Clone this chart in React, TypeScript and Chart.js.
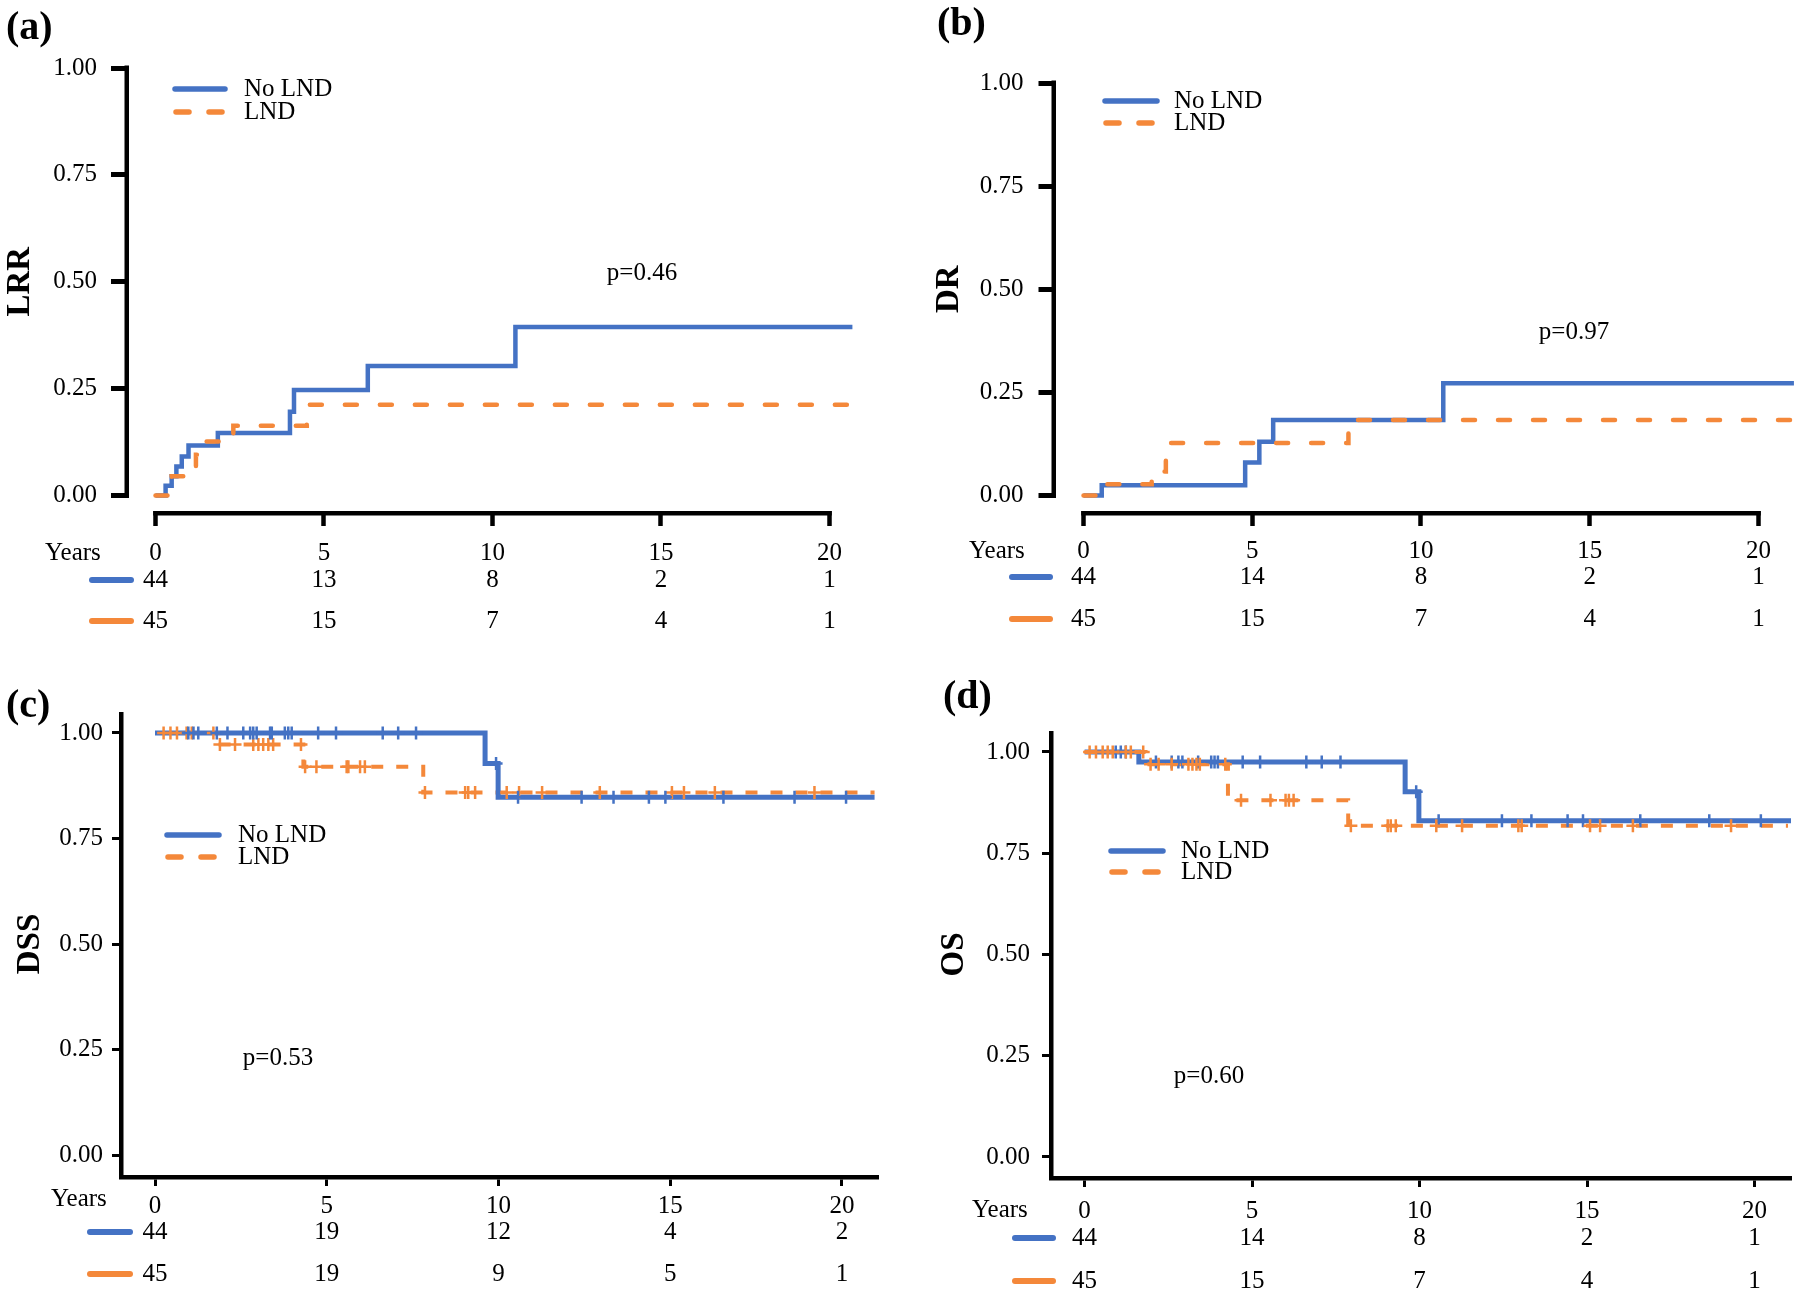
import React, { useEffect, useRef } from 'react';
import { Chart, registerables } from 'chart.js';

Chart.register(...registerables);

const BLUE = '#4472C4';
const ORANGE = '#F4883A';
const SERIF = "'Liberation Serif', 'Times New Roman', Times, serif";

// ---------- shared labels ----------
const seriesNames = ['No LND', 'LND'];
const xTickValues = [0, 5, 10, 15, 20];
const yTickValues = [0, 0.25, 0.5, 0.75, 1];
const riskHeader = 'Years';

// ---------- (a) LRR ----------
const lrrNoLndTimes = [0, 0.3, 0.48, 0.62, 0.78, 0.98, 1.85, 3.99, 4.11, 6.3, 10.68, 20.68];
const lrrNoLndValues = [0, 0.023, 0.045, 0.068, 0.091, 0.117, 0.146, 0.196, 0.247, 0.303, 0.394, 0.394];
const lrrLndTimes = [0, 0.48, 1.2, 1.42, 2.31, 4.49, 20.68];
const lrrLndValues = [0, 0.045, 0.095, 0.126, 0.163, 0.212, 0.212];
const lrrRiskNoLnd = [44, 13, 8, 2, 1];
const lrrRiskLnd = [45, 15, 7, 4, 1];
const lrrP = 'p=0.46';

// ---------- (b) DR ----------
const drNoLndTimes = [0, 0.54, 4.79, 5.21, 5.62, 10.66, 21.05];
const drNoLndValues = [0, 0.025, 0.08, 0.13, 0.183, 0.272, 0.272];
const drLndTimes = [0, 0.61, 2.02, 2.44, 7.85, 21.0];
const drLndValues = [0, 0.027, 0.058, 0.127, 0.183, 0.183];
const drRiskNoLnd = [44, 14, 8, 2, 1];
const drRiskLnd = [45, 15, 7, 4, 1];
const drP = 'p=0.97';

// ---------- (c) DSS ----------
const dssNoLndTimes = [0, 9.61, 9.99, 20.95];
const dssNoLndValues = [1, 0.928, 0.848, 0.848];
const dssLndTimes = [0, 1.83, 4.32, 7.81, 20.95];
const dssLndValues = [1, 0.973, 0.92, 0.859, 0.859];
const dssCensorNoLnd = [0.97, 1.12, 1.26, 1.8, 2.11, 2.57, 2.77, 2.86, 2.96, 3.35, 3.4, 3.78, 3.88, 3.98, 4.75, 5.27, 6.63, 7.08, 7.6, 9.93, 10.57, 12.42, 13.35, 14.38, 14.86, 16.55, 18.62, 20.12];
const dssCensorLnd = [0.25, 0.45, 0.64, 0.92, 1.07, 1.7, 1.89, 2.33, 2.86, 3.01, 3.15, 3.3, 3.44, 4.25, 4.37, 4.7, 5.58, 5.63, 5.97, 6.11, 7.86, 9.03, 9.12, 9.32, 10.24, 10.6, 11.27, 12.95, 15.05, 15.4, 16.3, 19.2];
const dssRiskNoLnd = [44, 19, 12, 4, 2];
const dssRiskLnd = [45, 19, 9, 5, 1];
const dssP = 'p=0.53';

// ---------- (d) OS ----------
const osNoLndTimes = [0, 1.62, 9.57, 9.98, 21.1];
const osNoLndValues = [1, 0.975, 0.902, 0.83, 0.83];
const osLndTimes = [0, 1.82, 4.28, 7.87, 21.0];
const osLndValues = [1, 0.97, 0.881, 0.818, 0.818];
const osCensorNoLnd = [0.93, 1.08, 1.23, 2.13, 2.6, 2.8, 2.92, 3.39, 3.78, 3.88, 3.98, 4.72, 5.24, 6.62, 7.08, 7.64, 9.9, 10.57, 12.46, 13.34, 14.42, 14.88, 16.59, 18.65, 20.19];
const osCensorLnd = [0.15, 0.34, 0.54, 0.69, 0.84, 1.23, 1.38, 1.75, 1.97, 2.21, 2.6, 3.1, 3.22, 3.34, 3.44, 4.2, 4.67, 5.55, 6.0, 6.1, 6.24, 7.95, 9.05, 9.14, 9.29, 10.5, 11.27, 12.95, 13.05, 15.09, 15.39, 16.37, 19.3];
const osRiskNoLnd = [44, 14, 8, 2, 1];
const osRiskLnd = [45, 15, 7, 4, 1];
const osP = 'p=0.60';

function stepAt(times: number[], values: number[], t: number) {
  let v = values[0];
  for (let i = 0; i < times.length; i++) if (times[i] <= t) v = values[i];
  return v;
}

type Spec = any;

const panels: Spec[] = [
  {
    key: 'a', label: '(a)', title: 'LRR', style: 'prism',
    left: 0, top: 0, w: 900, h: 650,
    xMin: -0.786, xMax: 21.0, yMin: -0.0363, yMax: 1.0,
    padTop: 68, padRight: 36.8, yW: 129, xH: 139,
    tickLen: 15, tickW: 4.5, ytickLen: 18, xPad: 12, yPad: 14,
    labelX: 6, labelY: 29, titleX: 20,
    leg: { x1: 175, x2: 225, tx: 244, y1: 89, y2: 112 },
    p: lrrP, pX: 642, pY: 273,
    yearsX: 45, yearsY: 553, row1: 580, row2: 621, rl1: 92, rl2: 131,
    noT: lrrNoLndTimes, noV: lrrNoLndValues, lT: lrrLndTimes, lV: lrrLndValues,
    riskNo: lrrRiskNoLnd, riskL: lrrRiskLnd,
    lw: 4.5, lwO: 4.5, dash: [12, 23], cap: 'round', blueTop: false,
  },
  {
    key: 'b', label: '(b)', title: 'DR', style: 'prism',
    left: 900, top: 0, w: 900, h: 650,
    xMin: -0.815, xMax: 21.23, yMin: -0.0376, yMax: 1.0,
    padTop: 83, padRight: 0, yW: 156, xH: 139,
    tickLen: 15, tickW: 4.5, ytickLen: 17.5, xPad: 10, yPad: 15,
    labelX: 37, labelY: 25, titleX: 49,
    leg: { x1: 205, x2: 257, tx: 274, y1: 101, y2: 123 },
    p: drP, pX: 674, pY: 332,
    yearsX: 69, yearsY: 551, row1: 577, row2: 619, rl1: 112, rl2: 150,
    noT: drNoLndTimes, noV: drNoLndValues, lT: drLndTimes, lV: drLndValues,
    riskNo: drRiskNoLnd, riskL: drRiskLnd,
    lw: 4.5, lwO: 4.5, dash: [12, 23], cap: 'round', blueTop: false,
  },
  {
    key: 'c', label: '(c)', title: 'DSS', style: 'gg',
    left: 0, top: 650, w: 900, h: 647,
    xMin: -0.99, xMax: 21.05, yMin: -0.0521, yMax: 1.045,
    padTop: 64, padRight: 22, yW: 121, xH: 120,
    tickLen: 9, tickW: 3, ytickLen: 9, xPad: 5, yPad: 9,
    labelX: 6, labelY: 57, titleX: 30,
    leg: { x1: 167, x2: 219, tx: 238, y1: 185, y2: 207 },
    p: dssP, pX: 278, pY: 408,
    yearsX: 51, yearsY: 549, row1: 582, row2: 624, rl1: 90, rl2: 130,
    noT: dssNoLndTimes, noV: dssNoLndValues, lT: dssLndTimes, lV: dssLndValues,
    cNo: dssCensorNoLnd, cL: dssCensorLnd,
    riskNo: dssRiskNoLnd, riskL: dssRiskLnd,
    lw: 5, lwO: 4, dash: [12, 13], cap: 'butt', blueTop: true,
  },
  {
    key: 'd', label: '(d)', title: 'OS', style: 'gg',
    left: 900, top: 650, w: 900, h: 647,
    xMin: -1.003, xMax: 21.09, yMin: -0.0519, yMax: 1.0469,
    padTop: 83, padRight: 0, yW: 151, xH: 119,
    tickLen: 9, tickW: 3, ytickLen: 9, xPad: 9, yPad: 12,
    labelX: 43, labelY: 48, titleX: 54,
    leg: { x1: 211, x2: 263, tx: 281, y1: 201, y2: 222 },
    p: osP, pX: 309, pY: 426,
    yearsX: 72, yearsY: 560, row1: 588, row2: 631, rl1: 115, rl2: 153,
    noT: osNoLndTimes, noV: osNoLndValues, lT: osLndTimes, lV: osLndValues,
    cNo: osCensorNoLnd, cL: osCensorLnd,
    riskNo: osRiskNoLnd, riskL: osRiskLnd,
    lw: 5, lwO: 4, dash: [12, 13], cap: 'butt', blueTop: false,
  },
];

function buildConfig(s: Spec): any {
  const curve = (times: number[], values: number[], color: string, dashed: boolean, width: number, order: number) => ({
    label: dashed ? seriesNames[1] : seriesNames[0],
    data: times.map((t, i) => ({ x: t, y: values[i] })),
    showLine: true,
    stepped: true,
    borderColor: color,
    backgroundColor: color,
    borderWidth: width,
    borderDash: dashed ? s.dash : [],
    borderCapStyle: dashed ? s.cap : 'butt',
    borderJoinStyle: 'miter',
    pointRadius: 0,
    pointHoverRadius: 0,
    fill: false,
    order,
  });
  const marks = (times: number[], ct: number[], cv: number[], color: string, order: number) => ({
    label: 'censor',
    data: times.map((t) => ({ x: t, y: stepAt(ct, cv, t) })),
    showLine: false,
    pointStyle: 'cross',
    pointRadius: 6.5,
    pointBorderWidth: 2.5,
    borderColor: color,
    backgroundColor: color,
    order,
  });
  const datasets: any[] = [
    curve(s.noT, s.noV, BLUE, false, s.lw, s.blueTop ? 2 : 3),
    curve(s.lT, s.lV, ORANGE, true, s.lwO, s.blueTop ? 3 : 2),
  ];
  if (s.cNo) {
    datasets.push(marks(s.cNo, s.noT, s.noV, BLUE, s.blueTop ? 0 : 1));
    datasets.push(marks(s.cL, s.lT, s.lV, ORANGE, s.blueTop ? 1 : 0));
  }
  const gg = s.style === 'gg';

  const overlay = {
    id: 'overlay_' + s.key,
    afterDraw(chart: any) {
      const ctx = chart.ctx;
      const xs = chart.scales.x;
      const ys = chart.scales.y;
      const area = chart.chartArea;
      ctx.save();
      ctx.fillStyle = '#000';
      ctx.strokeStyle = '#000';
      // separated (offset) axes
      if (!gg) {
        ctx.lineWidth = 4.5;
        ctx.lineCap = 'butt';
        ctx.setLineDash([]);
        ctx.beginPath();
        const ax = area.left - 2.25;
        ctx.moveTo(ax, ys.getPixelForValue(yTickValues[yTickValues.length - 1]) - 2.5);
        ctx.lineTo(ax, ys.getPixelForValue(yTickValues[0]) + 2.5);
        ctx.stroke();
        ctx.beginPath();
        const ay = area.bottom + 2.25;
        ctx.moveTo(xs.getPixelForValue(xTickValues[0]) - 2.25, ay);
        ctx.lineTo(xs.getPixelForValue(xTickValues[xTickValues.length - 1]) + 2.25, ay);
        ctx.stroke();
      }
      // panel label
      ctx.font = `bold 40px ${SERIF}`;
      ctx.textAlign = 'left';
      ctx.textBaseline = 'middle';
      ctx.fillText(s.label, s.labelX, s.labelY);
      // axis title
      ctx.save();
      ctx.translate(s.titleX, ys.getPixelForValue(0.5));
      ctx.rotate(-Math.PI / 2);
      ctx.font = `bold 33px ${SERIF}`;
      ctx.textAlign = 'center';
      ctx.textBaseline = 'middle';
      ctx.fillText(s.title, 0, 0);
      ctx.restore();
      // legend
      ctx.lineWidth = 5.5;
      ctx.lineCap = 'round';
      ctx.strokeStyle = BLUE;
      ctx.setLineDash([]);
      ctx.beginPath();
      ctx.moveTo(s.leg.x1, s.leg.y1);
      ctx.lineTo(s.leg.x2, s.leg.y1);
      ctx.stroke();
      ctx.strokeStyle = ORANGE;
      ctx.setLineDash([13, 20]);
      ctx.beginPath();
      ctx.moveTo(s.leg.x1 + 1, s.leg.y2);
      ctx.lineTo(s.leg.x2, s.leg.y2);
      ctx.stroke();
      ctx.setLineDash([]);
      ctx.font = `25px ${SERIF}`;
      ctx.fillStyle = '#000';
      ctx.textAlign = 'left';
      ctx.fillText(seriesNames[0], s.leg.tx, s.leg.y1);
      ctx.fillText(seriesNames[1], s.leg.tx, s.leg.y2);
      // p value
      ctx.textAlign = 'center';
      ctx.fillText(s.p, s.pX, s.pY);
      // risk table
      ctx.textAlign = 'left';
      ctx.fillText(riskHeader, s.yearsX, s.yearsY);
      ctx.lineWidth = 6;
      ctx.lineCap = 'round';
      ctx.strokeStyle = BLUE;
      ctx.beginPath();
      ctx.moveTo(s.rl1, s.row1);
      ctx.lineTo(s.rl2, s.row1);
      ctx.stroke();
      ctx.strokeStyle = ORANGE;
      ctx.beginPath();
      ctx.moveTo(s.rl1, s.row2);
      ctx.lineTo(s.rl2, s.row2);
      ctx.stroke();
      ctx.textAlign = 'center';
      xTickValues.forEach((t, i) => {
        const px = xs.getPixelForValue(t);
        ctx.fillText(String(s.riskNo[i]), px, s.row1);
        ctx.fillText(String(s.riskL[i]), px, s.row2);
      });
      ctx.restore();
    },
  };

  return {
    type: 'scatter',
    data: { datasets },
    options: {
      responsive: false,
      devicePixelRatio: 1,
      animation: false,
      events: [],
      layout: { padding: { top: s.padTop, right: s.padRight, left: 0, bottom: 0 } },
      plugins: { legend: { display: false }, tooltip: { enabled: false } },
      scales: {
        x: {
          type: 'linear',
          min: s.xMin,
          max: s.xMax,
          afterBuildTicks: (sc: any) => { sc.ticks = xTickValues.map((v) => ({ value: v })); },
          afterFit: (sc: any) => { sc.height = s.xH; },
          border: { display: gg, color: '#000', width: 4.5 },
          grid: { display: true, drawOnChartArea: false, drawTicks: true, tickLength: s.tickLen, tickWidth: s.tickW, tickColor: '#000', color: '#000' },
          ticks: { color: '#000', font: { family: SERIF, size: 25, lineHeight: 1.2 }, padding: s.xPad, maxRotation: 0, autoSkip: false, callback: (v: any) => String(v) },
        },
        y: {
          type: 'linear',
          min: s.yMin,
          max: s.yMax,
          afterBuildTicks: (sc: any) => { sc.ticks = yTickValues.map((v) => ({ value: v })); },
          afterFit: (sc: any) => { sc.width = s.yW; },
          border: { display: gg, color: '#000', width: 4.5 },
          grid: { display: true, drawOnChartArea: false, drawTicks: true, tickLength: s.ytickLen, tickWidth: gg ? 3 : 5, tickColor: '#000', color: '#000' },
          ticks: { color: '#000', font: { family: SERIF, size: 25, lineHeight: 1.2 }, padding: s.yPad, autoSkip: false, callback: (v: any) => Number(v).toFixed(2) },
        },
      },
    },
    plugins: [overlay],
  };
}

function Panel({ spec }: { spec: Spec }) {
  const ref = useRef<HTMLCanvasElement | null>(null);
  useEffect(() => {
    if (!ref.current) return;
    const chart = new Chart(ref.current, buildConfig(spec));
    return () => chart.destroy();
  }, [spec]);
  return (
    <canvas
      ref={ref}
      width={spec.w}
      height={spec.h}
      style={{ position: 'absolute', left: spec.left, top: spec.top, width: spec.w, height: spec.h }}
    />
  );
}

export default function App() {
  return (
    <div style={{ position: 'absolute', left: 0, top: 0, width: 1800, height: 1297, background: '#fff', overflow: 'hidden' }}>
      {panels.map((p) => (
        <Panel key={p.key} spec={p} />
      ))}
    </div>
  );
}
